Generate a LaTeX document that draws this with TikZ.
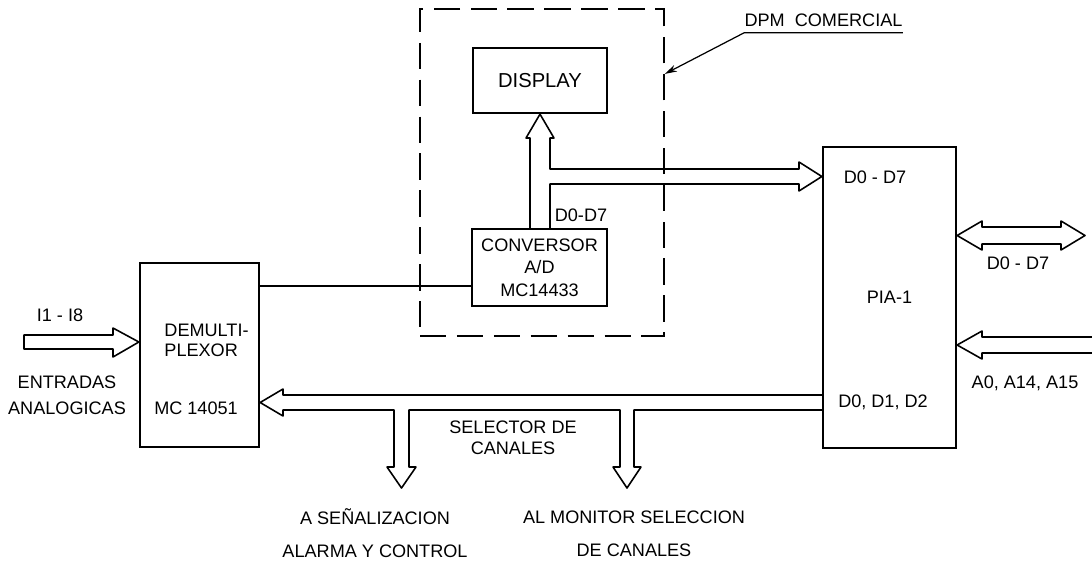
\documentclass[tikz,border=0pt]{standalone}
\usepackage{fontspec}
\setmainfont{Liberation Sans}
\usetikzlibrary{arrows.meta, positioning, calc}

\begin{document}
\begin{tikzpicture}[
    x=0.02cm, y=-0.02cm,
    every node/.style = {font=\fontsize{10.3}{12.5}\selectfont, inner sep=0pt},
    blockbox/.style   = {draw, line width=1.3pt, align=center},
    dpmframe/.style   = {draw, line width=0.9pt, dash pattern=on 15pt off 6pt},
    bus/.style        = {draw, line width=0.9pt, line join=round},
    wire/.style       = {draw, line width=0.9pt},
    arr/.style        = {-{Stealth[length=7pt, width=4pt]}, line width=0.7pt},
]
\useasboundingbox (0,0) rectangle (1092,562);

% Blocks
\node[blockbox, minimum width=2.38cm, minimum height=3.68cm] (demux) at (199.5,355) {};
\node[blockbox, minimum width=2.68cm, minimum height=1.3cm,
      font=\fontsize{11.5}{13}\selectfont] (disp) at (540,80.5) {DISPLAY};
\node[blockbox, minimum width=2.7cm, minimum height=1.54cm,
      font=\fontsize{10.3}{12.7}\selectfont] (conv) at (539.5,267.5) {CONVERSOR\\A/D\\MC14433};
\node[blockbox, minimum width=2.66cm, minimum height=6.02cm] (pia) at (889.5,297.5) {PIA-1};

% DPM frame
\node[dpmframe, minimum width=4.88cm, minimum height=6.54cm] (dpm) at (542,172.5) {};
\node[inner xsep=0pt, inner ysep=3.4pt] (dpmlbl) at (823.5,20) {DPM\ \ COMERCIAL};
\coordinate (dpmhit) at ($(dpm.north east)!0.2!(dpm.south east)$);
\draw[arr] (dpmlbl.south east) -- (dpmlbl.south west) -- (dpmhit);

% Demultiplexor texts
\node[align=left, font=\fontsize{10.3}{11.5}\selectfont] (demuxtxt) at (206.5,340) {DEMULTI-\\PLEXOR};
\node (demuxic) at (196,408) {MC 14051};

% Analog inputs
\node (inlbl) at (60,315) {I1 - I8};
\node[align=center, font=\fontsize{10.3}{14.7}\selectfont] (entr) at (67,395) {ENTRADAS\\ANALOGICAS};
\draw[bus] (24,335) -- (113,335) -- (113,328) -- (demux.west |- 0,342)
    -- (113,357) -- (113,349) -- (24,349) -- cycle;

% Analog line to converter
\coordinate (cin) at ($(conv.south west)!0.27!(conv.north west)$);
\draw[wire] (demux.east |- cin) -- (cin);

% Data bus from converter
\node (convbus) at (581,215) {D0-D7};
\draw[bus] (530,0 |- conv.north) -- (530,138) -- (526,138) -- (disp.south)
    -- (554,138) -- (550,138) -- (550,169) -- (799,169) -- (799,162)
    -- (pia.west |- 0,176.5) -- (799,191) -- (799,184) -- (550,184)
    -- (550,0 |- conv.north);
\node (piain) at (875,177) {D0 - D7};

% Channel selector bus
\node (piasel) at (883,402) {D0, D1, D2};
\draw[bus] (pia.west |- 0,395) -- (283,395) -- (283,389) -- (demux.east |- 0,402.5)
    -- (283,416) -- (283,410) -- (394,410) -- (394,467) -- (387,467) -- (401.5,488)
    -- (416,467) -- (409,467) -- (409,410) -- (620,410) -- (620,467) -- (613,467)
    -- (627,488) -- (641,467) -- (634,467) -- (634,410) -- (pia.west |- 0,410);
\node[align=center, font=\fontsize{10.3}{12}\selectfont] (sellbl) at (513,437.5) {SELECTOR DE\\CANALES};
\node[align=center, font=\fontsize{10.3}{18.7}\selectfont] (alarm) at (375,533.5) {A SEÑALIZACION\\ALARMA Y CONTROL};
\node[align=center, font=\fontsize{10.3}{18.7}\selectfont] (monit) at (634,533.5) {AL MONITOR SELECCION\\DE CANALES};

% Right side buses
\draw[bus] (pia.east |- 0,235.5) -- (982,221) -- (982,227) -- (1061,227) -- (1061,221)
    -- (1085,235.5) -- (1061,250) -- (1061,244) -- (982,244) -- (982,250) -- cycle;
\node (databus) at (1018,263) {D0 - D7};
\draw[bus] (1092,337) -- (982,337) -- (982,331) -- (pia.east |- 0,345)
    -- (982,359) -- (982,353) -- (1092,353);
\node (addrbus) at (1025,383) {A0, A14, A15};

\end{tikzpicture}
\end{document}
